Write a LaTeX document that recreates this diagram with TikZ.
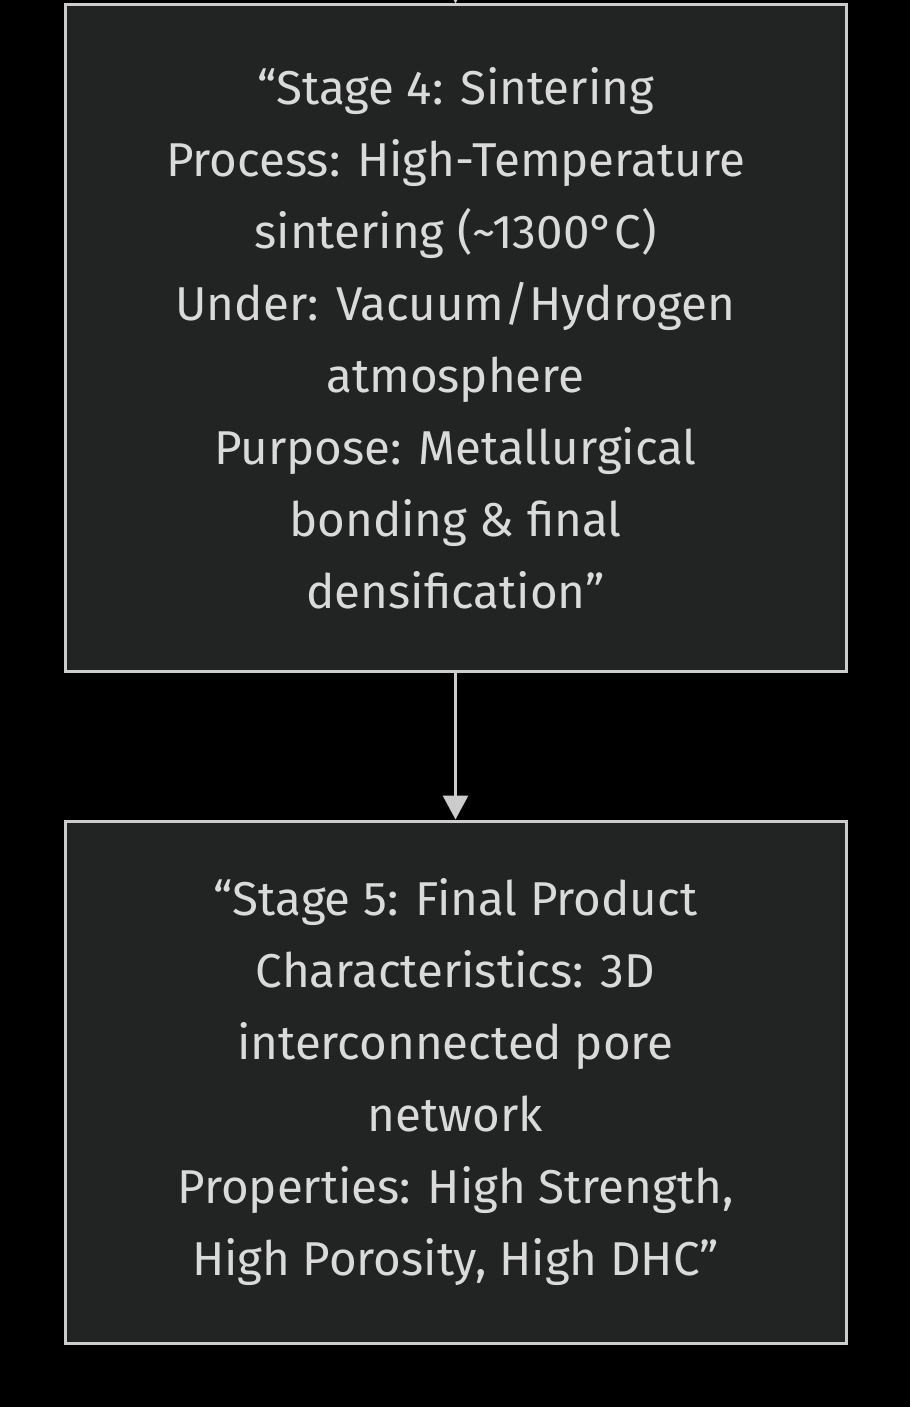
\documentclass[tikz,border=0pt]{standalone}
\usepackage{fontspec}
\setmainfont{Fira Sans}
\usetikzlibrary{arrows.meta}
\definecolor{bgc}{HTML}{000000}
\definecolor{boxfill}{HTML}{222323}
\definecolor{boxline}{HTML}{CCCCCC}
\definecolor{txt}{HTML}{DADADA}
\tikzset{
  stagebox/.style={draw=boxline, line width=3pt, fill=boxfill, text=txt,
    minimum width=781pt, align=center, inner sep=0pt,
    font=\fontsize{47.5pt}{72pt}\selectfont},
  flow/.style={draw=boxline, line width=3pt, -{Triangle[width=25pt,length=24pt]}}
}
\begin{document}
\begin{tikzpicture}[x=1pt,y=-1pt]
\fill[bgc] (0,0) rectangle (910,1407);
\useasboundingbox (0,0) rectangle (910,1407);
\node[stagebox, minimum height=666pt] (s4) at (455.5,338) {“Stage 4: Sintering\\Process: High-Temperature\\sintering (\textasciitilde1300°C)\\Under: Vacuum/Hydrogen\\atmosphere\\Purpose: Metallurgical\\bonding \& final\\densification”};
\node[stagebox, minimum height=522pt] (s5) at (455.5,1082) {“Stage 5: Final Product\\Characteristics: 3D\\interconnected pore\\network\\Properties: High Strength,\\High Porosity, High DHC”};
\coordinate (top) at (455.5,-40);
\draw[flow] (top) -- (s4.north);
\draw[flow] (s4.south) -- (s5.north);
\end{tikzpicture}
\end{document}
